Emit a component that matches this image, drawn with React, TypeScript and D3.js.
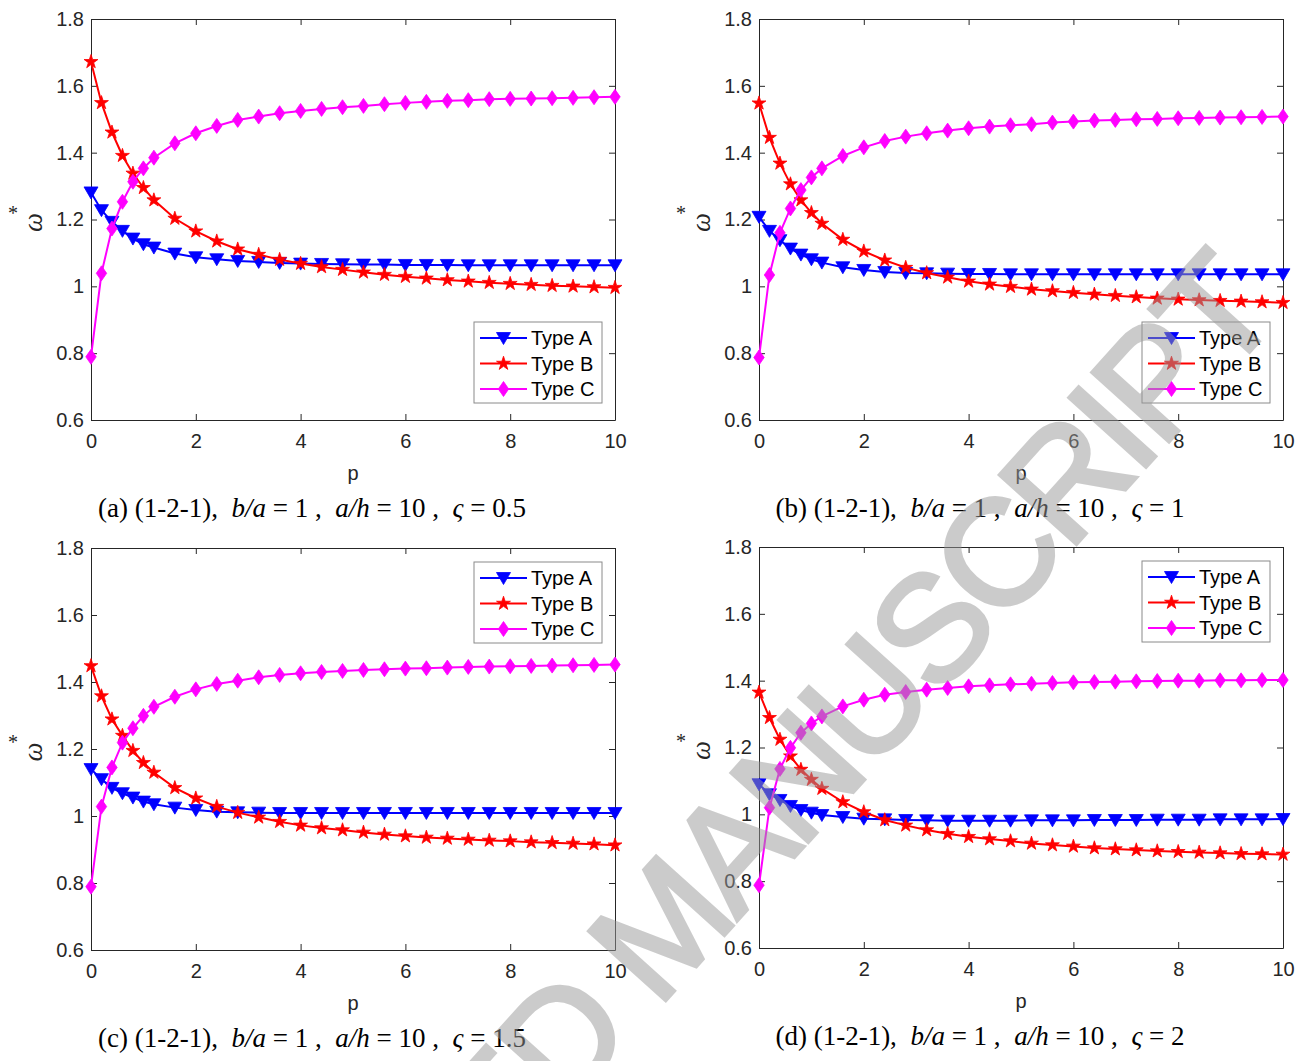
import React, { useEffect, useRef } from "react";
import * as d3 from "d3";

// p values where the curves were sampled
const pValues = [0, 0.2, 0.4, 0.6, 0.8, 1.0, 1.2, 1.6, 2.0, 2.4, 2.8, 3.2, 3.6, 4.0, 4.4, 4.8, 5.2, 5.6, 6.0, 6.4, 6.8, 7.2, 7.6, 8.0, 8.4, 8.8, 9.2, 9.6, 10];

// (a) zeta = 0.5
const aTypeA = [1.281, 1.228, 1.193, 1.166, 1.143, 1.126, 1.116, 1.098, 1.087, 1.081, 1.076, 1.073, 1.070, 1.068, 1.067, 1.066, 1.065, 1.065, 1.064, 1.064, 1.064, 1.063, 1.063, 1.063, 1.063, 1.063, 1.063, 1.063, 1.063];
const aTypeB = [1.672, 1.549, 1.461, 1.391, 1.338, 1.295, 1.258, 1.203, 1.165, 1.135, 1.111, 1.095, 1.080, 1.068, 1.058, 1.050, 1.042, 1.035, 1.029, 1.024, 1.019, 1.015, 1.011, 1.008, 1.005, 1.002, 1.000, 0.998, 0.996];
const aTypeC = [0.789, 1.039, 1.173, 1.253, 1.313, 1.353, 1.385, 1.428, 1.458, 1.480, 1.498, 1.508, 1.518, 1.525, 1.531, 1.536, 1.540, 1.545, 1.549, 1.552, 1.555, 1.557, 1.560, 1.561, 1.562, 1.563, 1.564, 1.566, 1.567];

// (b) zeta = 1
const bTypeA = [1.208, 1.166, 1.138, 1.113, 1.095, 1.081, 1.071, 1.057, 1.049, 1.043, 1.040, 1.039, 1.038, 1.037, 1.037, 1.036, 1.036, 1.036, 1.036, 1.036, 1.036, 1.036, 1.036, 1.036, 1.036, 1.036, 1.036, 1.036, 1.036];
const bTypeB = [1.548, 1.445, 1.368, 1.306, 1.258, 1.220, 1.188, 1.140, 1.105, 1.078, 1.056, 1.040, 1.027, 1.015, 1.006, 0.999, 0.991, 0.986, 0.981, 0.976, 0.972, 0.968, 0.964, 0.961, 0.959, 0.957, 0.955, 0.953, 0.951];
const bTypeC = [0.787, 1.034, 1.160, 1.233, 1.288, 1.326, 1.353, 1.390, 1.416, 1.435, 1.448, 1.458, 1.466, 1.473, 1.478, 1.482, 1.485, 1.490, 1.493, 1.496, 1.498, 1.500, 1.501, 1.503, 1.504, 1.505, 1.506, 1.507, 1.508];

// (c) zeta = 1.5
const cTypeA = [1.140, 1.110, 1.084, 1.068, 1.055, 1.043, 1.035, 1.025, 1.018, 1.013, 1.011, 1.010, 1.009, 1.009, 1.009, 1.009, 1.009, 1.009, 1.009, 1.009, 1.009, 1.009, 1.009, 1.009, 1.009, 1.009, 1.009, 1.009, 1.009];
const cTypeB = [1.448, 1.358, 1.289, 1.240, 1.195, 1.159, 1.130, 1.084, 1.053, 1.028, 1.010, 0.996, 0.983, 0.972, 0.964, 0.958, 0.951, 0.945, 0.940, 0.936, 0.933, 0.930, 0.927, 0.925, 0.922, 0.920, 0.918, 0.916, 0.913];
const cTypeC = [0.789, 1.028, 1.145, 1.219, 1.262, 1.299, 1.326, 1.356, 1.378, 1.394, 1.404, 1.414, 1.421, 1.426, 1.430, 1.433, 1.436, 1.438, 1.440, 1.441, 1.443, 1.445, 1.446, 1.447, 1.448, 1.449, 1.450, 1.451, 1.452];

// (d) zeta = 2
const dTypeA = [1.090, 1.060, 1.043, 1.025, 1.013, 1.005, 0.998, 0.992, 0.987, 0.985, 0.983, 0.982, 0.981, 0.981, 0.981, 0.981, 0.982, 0.982, 0.982, 0.983, 0.983, 0.983, 0.984, 0.984, 0.984, 0.985, 0.985, 0.985, 0.986];
const dTypeB = [1.365, 1.289, 1.224, 1.174, 1.134, 1.104, 1.077, 1.037, 1.007, 0.983, 0.967, 0.953, 0.942, 0.933, 0.926, 0.920, 0.913, 0.908, 0.904, 0.899, 0.896, 0.893, 0.890, 0.888, 0.886, 0.884, 0.882, 0.881, 0.880];
const dTypeC = [0.788, 1.020, 1.136, 1.199, 1.244, 1.272, 1.293, 1.323, 1.343, 1.358, 1.366, 1.373, 1.378, 1.383, 1.386, 1.389, 1.391, 1.393, 1.395, 1.396, 1.397, 1.398, 1.399, 1.400, 1.400, 1.401, 1.401, 1.402, 1.402];

const seriesNames = ["Type A", "Type B", "Type C"];
const panelLetters = ["(a)", "(b)", "(c)", "(d)"];
const zetaValues = ["0.5", "1", "1.5", "2"];
const xTicks = [0, 2, 4, 6, 8, 10];
const yTicks = [0.6, 0.8, 1, 1.2, 1.4, 1.6, 1.8];

const panelData = [
  [aTypeA, aTypeB, aTypeC],
  [bTypeA, bTypeB, bTypeC],
  [cTypeA, cTypeB, cTypeC],
  [dTypeA, dTypeB, dTypeC],
];

const width = 1309;
const height = 1061;
const colors = ["#0000ff", "#ff0000", "#ff00ff"];
const sans = "'Liberation Sans', Arial, Helvetica, sans-serif";
const serif = "'Liberation Serif', 'Times New Roman', serif";
const axisColor = "#262626";

// plot boxes of the four panels
const layout = [
  { left: 91, right: 615, top: 19, bottom: 420, legend: "bottom" },
  { left: 759, right: 1283, top: 19, bottom: 420, legend: "bottom" },
  { left: 91, right: 615, top: 548, bottom: 950, legend: "top" },
  { left: 759, right: 1283, top: 547, bottom: 948, legend: "top" },
];

// marker shapes: down triangle, pentagram, diamond
const markers = [
  "M-7,-5.5L7,-5.5L0,6.5Z",
  d3.symbol(d3.symbolStar, 60)(),
  "M0,-7.5L5.2,0L0,7.5L-5.2,0Z",
];

const App = () => {
  const ref = useRef(null);

  useEffect(() => {
    const svg = d3.select(ref.current);
    svg.selectAll("*").remove();

    svg.append("rect").attr("width", width).attr("height", height).attr("fill", "#fff");

    layout.forEach((box, i) => {
      const x = d3.scaleLinear().domain([0, 10]).range([box.left, box.right]);
      const y = d3.scaleLinear().domain([0.6, 1.8]).range([box.bottom, box.top]);
      const g = svg.append("g");

      // axes with inward ticks, box on
      const styleAxis = (sel) => {
        sel.selectAll("path").attr("stroke", axisColor);
        sel.selectAll("line").attr("stroke", axisColor);
        sel.selectAll("text").attr("fill", axisColor).attr("font-family", sans).attr("font-size", 20);
      };
      g.append("g")
        .attr("transform", `translate(0,${box.bottom})`)
        .call(d3.axisBottom(x).tickValues(xTicks).tickSizeInner(-6).tickSizeOuter(0).tickPadding(14).tickFormat(d3.format("d")))
        .call(styleAxis);
      g.append("g")
        .attr("transform", `translate(0,${box.top})`)
        .call(d3.axisTop(x).tickValues(xTicks).tickSizeInner(-6).tickSizeOuter(0).tickFormat(() => ""))
        .call(styleAxis);
      g.append("g")
        .attr("transform", `translate(${box.left},0)`)
        .call(d3.axisLeft(y).tickValues(yTicks).tickSizeInner(-6).tickSizeOuter(0).tickPadding(7).tickFormat((d) => `${d}`))
        .call(styleAxis);
      g.append("g")
        .attr("transform", `translate(${box.right},0)`)
        .call(d3.axisRight(y).tickValues(yTicks).tickSizeInner(-6).tickSizeOuter(0).tickFormat(() => ""))
        .call(styleAxis);
      g.selectAll(".domain").attr("stroke-width", 1);

      // series
      const line = d3.line().x((d) => x(d[0])).y((d) => y(d[1]));
      panelData[i].forEach((values, s) => {
        const pts = pValues.map((p, k) => [p, values[k]]);
        g.append("path")
          .attr("d", line(pts))
          .attr("fill", "none")
          .attr("stroke", colors[s])
          .attr("stroke-width", 2);
        g.append("g")
          .selectAll("path")
          .data(pts)
          .join("path")
          .attr("transform", (d) => `translate(${x(d[0])},${y(d[1])})`)
          .attr("d", markers[s])
          .attr("fill", colors[s])
          .attr("stroke", colors[s])
          .attr("stroke-width", 0.8);
      });

      // legend
      const lx = box.right - 141;
      const ly = box.legend === "bottom" ? box.bottom - 98 : box.top + 14;
      const leg = g.append("g").attr("transform", `translate(${lx},${ly})`);
      leg.append("rect")
        .attr("width", 128)
        .attr("height", 81)
        .attr("fill", "#fff")
        .attr("stroke", "#8a8a8a")
        .attr("stroke-width", 1);
      seriesNames.forEach((name, s) => {
        const ry = 16 + s * 25.5;
        leg.append("line")
          .attr("x1", 6).attr("x2", 53).attr("y1", ry).attr("y2", ry)
          .attr("stroke", colors[s]).attr("stroke-width", 2);
        leg.append("path")
          .attr("transform", `translate(29.5,${ry})`)
          .attr("d", markers[s])
          .attr("fill", colors[s]).attr("stroke", colors[s]).attr("stroke-width", 0.8);
        leg.append("text")
          .attr("x", 57).attr("y", ry).attr("dy", "0.36em")
          .attr("font-family", sans).attr("font-size", 20).attr("fill", "#000")
          .text(name);
      });

      // axis labels
      g.append("text")
        .attr("x", (box.left + box.right) / 2)
        .attr("y", box.bottom + 60)
        .attr("text-anchor", "middle")
        .attr("font-family", sans).attr("font-size", 20).attr("fill", axisColor)
        .text("p");
      const cy = (box.top + box.bottom) / 2 + 3;
      g.append("text")
        .attr("transform", `translate(${box.left - 49},${cy}) rotate(-90)`)
        .attr("text-anchor", "middle")
        .attr("font-family", serif).attr("font-style", "italic").attr("font-size", 27).attr("fill", axisColor)
        .text("ω");
      g.append("text")
        .attr("x", box.left - 78).attr("y", cy - 3)
        .attr("text-anchor", "middle")
        .attr("font-family", serif).attr("font-size", 20).attr("fill", axisColor)
        .text("*");

      // caption
      const cap = g.append("text")
        .attr("x", (box.left + box.right) / 2 - 41)
        .attr("y", box.bottom + 97)
        .attr("text-anchor", "middle")
        .attr("font-family", serif).attr("font-size", 27).attr("fill", "#000")
        .style("white-space", "pre");
      const parts = [
        [`${panelLetters[i]} (1-2-1),  `, false],
        ["b/a", true],
        [" = 1 ,  ", false],
        ["a/h", true],
        [" = 10 ,  ", false],
        ["ς", true],
        [` = ${zetaValues[i]}`, false],
      ];
      parts.forEach(([t, it]) => {
        cap.append("tspan").attr("font-style", it ? "italic" : "normal").text(t);
      });
    });

    // watermark
    svg.append("text")
      .attr("transform", "translate(700,962) rotate(-48)")
      .attr("text-anchor", "middle")
      .attr("font-family", sans).attr("font-size", 150)
      .attr("letter-spacing", -6)
      .attr("fill", "#999").attr("stroke", "#999").attr("stroke-width", 4)
      .attr("opacity", 0.5)
      .text("ACCEPTED MANUSCRIPT");
  }, []);

  return (
    <svg
      ref={ref}
      width={width}
      height={height}
      viewBox={`0 0 ${width} ${height}`}
      style={{ position: "absolute", left: 0, top: 0 }}
    />
  );
};

export default App;
